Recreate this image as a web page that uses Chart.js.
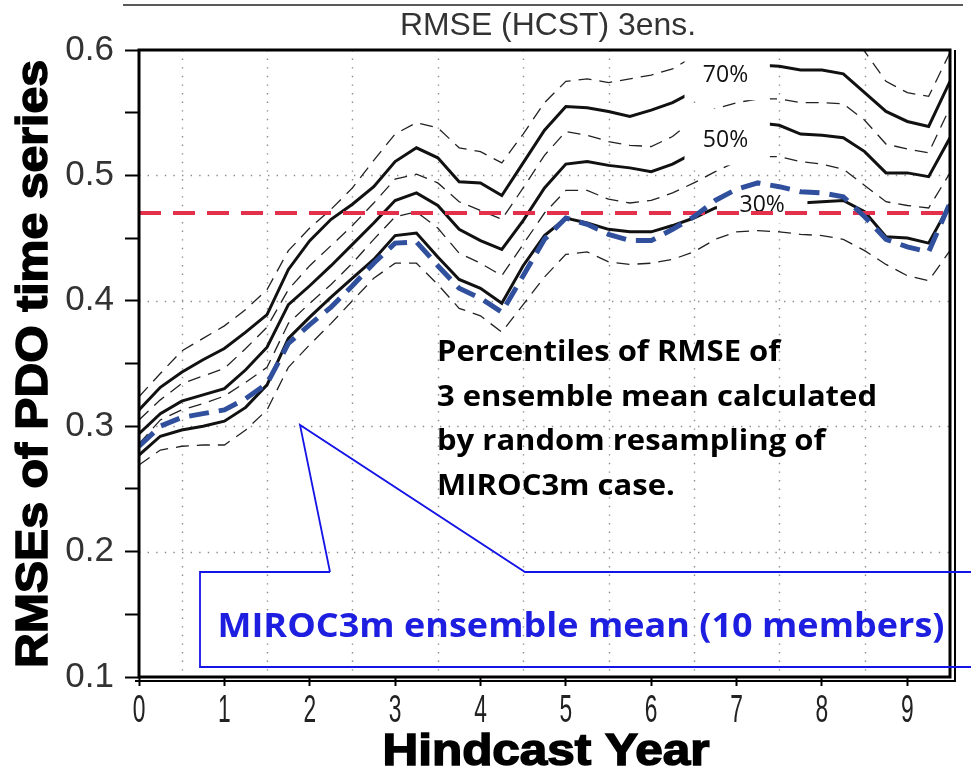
<!DOCTYPE html>
<html>
<head>
<meta charset="utf-8">
<script src="https://cdn.jsdelivr.net/npm/chart.js@4.4.1/dist/chart.umd.min.js"></script>
<style>
  html, body { margin: 0; padding: 0; background: #fff; }
  canvas { display: block; }
</style>
</head>
<body>
<canvas id="rmseChart" width="971" height="768"></canvas>
<script>
/*
    RMSE of PDO hindcasts vs lead time
*/

// lead time of each sample (years)
var leadYears = [0, 0.25, 0.5, 0.75, 1, 1.25, 1.5, 1.75, 2, 2.25, 2.5, 2.75, 3, 3.25, 3.5, 3.75,
    4, 4.25, 4.5, 4.75, 5, 5.25, 5.5, 5.75, 6, 6.25, 6.5, 6.75, 7, 7.25, 7.5, 7.75,
    8, 8.25, 8.5, 8.75, 9, 9.25, 9.5];

// percentiles of the 3-member resampled RMSE
var p20 = [0.269, 0.281, 0.284, 0.285, 0.285, 0.297, 0.313, 0.347, 0.365, 0.382, 0.400, 0.418, 0.430, 0.430, 0.413, 0.394,
    0.388, 0.375, 0.397, 0.419, 0.437, 0.439, 0.431, 0.429, 0.430, 0.433, 0.439, 0.449, 0.455, 0.456, 0.455, 0.453,
    0.452, 0.449, 0.440, 0.429, 0.420, 0.416, 0.440];
var p30 = [0.277, 0.292, 0.297, 0.300, 0.304, 0.315, 0.333, 0.370, 0.387, 0.403, 0.418, 0.433, 0.452, 0.454, 0.435, 0.417,
    0.410, 0.398, 0.428, 0.452, 0.466, 0.462, 0.457, 0.455, 0.455, 0.460, 0.466, 0.474, 0.478, 0.479, 0.479, 0.478,
    0.479, 0.480, 0.471, 0.451, 0.450, 0.446, 0.477];
var p40 = [0.286, 0.305, 0.313, 0.318, 0.324, 0.335, 0.347, 0.382, 0.398, 0.413, 0.430, 0.449, 0.467, 0.471, 0.458, 0.438,
    0.430, 0.420, 0.445, 0.470, 0.488, 0.488, 0.481, 0.478, 0.480, 0.486, 0.494, 0.503, 0.511, 0.515, 0.515, 0.511,
    0.509, 0.505, 0.492, 0.479, 0.476, 0.474, 0.502];
var p50 = [0.294, 0.310, 0.320, 0.325, 0.330, 0.345, 0.363, 0.397, 0.412, 0.428, 0.445, 0.462, 0.480, 0.486, 0.476, 0.457,
    0.448, 0.441, 0.464, 0.490, 0.509, 0.511, 0.508, 0.506, 0.503, 0.509, 0.518, 0.527, 0.536, 0.542, 0.540, 0.533,
    0.532, 0.530, 0.519, 0.502, 0.502, 0.499, 0.530];
var p60 = [0.305, 0.321, 0.334, 0.340, 0.346, 0.362, 0.379, 0.409, 0.428, 0.444, 0.460, 0.478, 0.497, 0.501, 0.494, 0.479,
    0.472, 0.465, 0.490, 0.516, 0.535, 0.532, 0.527, 0.524, 0.523, 0.531, 0.545, 0.553, 0.558, 0.561, 0.561, 0.558,
    0.558, 0.557, 0.544, 0.525, 0.521, 0.518, 0.554];
var p70 = [0.313, 0.331, 0.343, 0.353, 0.362, 0.375, 0.389, 0.425, 0.448, 0.465, 0.477, 0.491, 0.511, 0.522, 0.514, 0.495,
    0.494, 0.484, 0.510, 0.536, 0.555, 0.554, 0.551, 0.547, 0.552, 0.558, 0.567, 0.575, 0.582, 0.588, 0.587, 0.584,
    0.584, 0.581, 0.566, 0.551, 0.543, 0.539, 0.575];
var p80 = [0.3235, 0.342, 0.360, 0.370, 0.380, 0.393, 0.409, 0.440, 0.458, 0.473, 0.490, 0.512, 0.533, 0.542, 0.538, 0.522,
    0.519, 0.510, 0.533, 0.558, 0.575, 0.577, 0.574, 0.577, 0.580, 0.585, 0.595, 0.603, 0.610, 0.615, 0.615, 0.612,
    0.612, 0.610, 0.599, 0.575, 0.566, 0.563, 0.598];

// MIROC3m 10-member ensemble mean
var miroc3m = [0.284, 0.300, 0.307, 0.310, 0.313, 0.322, 0.334, 0.366, 0.381, 0.395, 0.412, 0.430, 0.446, 0.447, 0.428, 0.410,
    0.402, 0.391, 0.420, 0.449, 0.466, 0.461, 0.453, 0.448, 0.448, 0.457, 0.467, 0.480, 0.489, 0.494, 0.491, 0.487,
    0.486, 0.483, 0.467, 0.449, 0.443, 0.439, 0.478];

var thresholdLead = [0, 9.5];
var thresholdRmse = [0.47, 0.47];

// axis ticks and dotted grid positions
var yTickValues = [0.1, 0.15, 0.2, 0.25, 0.3, 0.35, 0.4, 0.45, 0.5, 0.55, 0.6];
var xLabelValues = [0, 1, 2, 3, 4, 5, 6, 7, 8, 9];
var gridLeads = [0.5, 1.5, 2.5, 3.5, 4.5, 5.5, 6.5, 7.5, 8.5];
var gridRmse = [0.2, 0.3, 0.4, 0.5];

// percentile tags: text, box corners (lead, rmse) and text anchor
var pctTags = [
    { text: '70%', x1: 6.39, x2: 7.39, y1: 0.600, y2: 0.560, tx: 6.87, ty: 0.580 },
    { text: '50%', x1: 6.39, x2: 7.39, y1: 0.553, y2: 0.508, tx: 6.87, ty: 0.528 },
    { text: '30%', x1: 6.77, x2: 7.83, y1: 0.487, y2: 0.462, tx: 7.30, ty: 0.476 },
];

var noteLines = ['Percentiles of RMSE of', '3 ensemble mean calculated', 'by random resampling of', 'MIROC3m case.'];
var calloutText = 'MIROC3m ensemble mean (10 members)';

function isMajor(v, step){
    var r = v / step;
    return Math.abs(r - Math.round(r)) < 1e-6;
}

function lineSet(label, values, xs, color, width, dash, order){
    return {
        label: label,
        data: values.map((v, i) => ({ x: xs[i], y: v })),
        borderColor: color,
        borderWidth: width,
        borderDash: dash,
        pointRadius: 0,
        tension: 0,
        fill: false,
        order: order,
    };
}

// draw text squeezed/stretched to a given width
function fitText(ctx, text, x, y, width, align){
    var w = ctx.measureText(text).width;
    ctx.save();
    ctx.translate(x, y);
    ctx.scale(width / w, 1);
    ctx.textAlign = align;
    ctx.fillText(text, 0, 0);
    ctx.restore();
}

var overlayPlugin = {
    id: 'overlay',

    // dotted grid: half-year verticals, 0.1 horizontals
    beforeDatasetsDraw(chart){
        var ctx = chart.ctx;
        var a = chart.chartArea;
        var xs = chart.scales.x, ys = chart.scales.y;
        ctx.save();
        ctx.strokeStyle = '#8c8c8c';
        ctx.lineWidth = 1.4;
        ctx.setLineDash([1.4, 7.2]);
        gridLeads.forEach(function(v){
            var px = Math.round(xs.getPixelForValue(v)) + 0.5;
            ctx.beginPath();
            ctx.moveTo(px, a.top);
            ctx.lineTo(px, a.bottom);
            ctx.stroke();
        });
        gridRmse.forEach(function(v){
            var py = Math.round(ys.getPixelForValue(v)) + 0.5;
            ctx.beginPath();
            ctx.moveTo(a.left, py);
            ctx.lineTo(a.right, py);
            ctx.stroke();
        });
        ctx.restore();
    },

    // white tag boxes sit over the percentile curves, under the red and blue lines
    beforeDatasetDraw(chart, args){
        if(chart.data.datasets[args.index].label !== 'threshold') return;
        var ctx = chart.ctx;
        var xs = chart.scales.x, ys = chart.scales.y;
        ctx.save();
        pctTags.forEach(function(t){
            var l = xs.getPixelForValue(t.x1), r = xs.getPixelForValue(t.x2);
            var top = ys.getPixelForValue(t.y1), bot = ys.getPixelForValue(t.y2);
            ctx.fillStyle = '#fff';
            ctx.fillRect(l, top, r - l, bot - top);
            ctx.fillStyle = '#111';
            ctx.font = '23px "Open Sans"';
            ctx.textAlign = 'center';
            ctx.textBaseline = 'middle';
            ctx.fillText(t.text, xs.getPixelForValue(t.tx), ys.getPixelForValue(t.ty));
        });
        ctx.restore();
    },

    afterDraw(chart){
        var ctx = chart.ctx;
        var a = chart.chartArea;
        var xs = chart.scales.x;
        ctx.save();

        // frame with offset edge on right/bottom
        ctx.strokeStyle = '#000';
        ctx.lineWidth = 3;
        ctx.strokeRect(a.left, a.top, a.right - a.left, a.bottom - a.top);
        ctx.lineWidth = 2;
        ctx.beginPath();
        ctx.moveTo(a.right + 5, a.top);
        ctx.lineTo(a.right + 5, a.bottom + 4);
        ctx.lineTo(a.left - 4, a.bottom + 4);
        ctx.stroke();

        // rule above the title
        ctx.lineWidth = 1.5;
        ctx.strokeStyle = '#222';
        ctx.beginPath();
        ctx.moveTo(123, 5);
        ctx.lineTo(963, 5);
        ctx.stroke();

        // title
        ctx.fillStyle = '#333';
        ctx.font = '32px "Liberation Sans"';
        ctx.textBaseline = 'alphabetic';
        fitText(ctx, 'RMSE (HCST) 3ens.', 548, 35, 296, 'center');

        // x tick labels (tall, narrow digits)
        ctx.font = '38px "Liberation Sans"';
        ctx.fillStyle = '#222';
        xLabelValues.forEach(function(v){
            ctx.save();
            ctx.translate(xs.getPixelForValue(v), 722);
            ctx.scale(0.6, 1);
            ctx.textAlign = 'center';
            ctx.fillText(String(v), 0, 0);
            ctx.restore();
        });

        // axis titles
        ctx.fillStyle = '#000';
        ctx.strokeStyle = '#000';
        ctx.lineWidth = 1.5;
        ctx.font = 'bold 44px "Liberation Sans"';
        ctx.save();
        ctx.translate(47, 364);
        ctx.rotate(-Math.PI / 2);
        var wy = ctx.measureText('RMSEs of PDO time series').width;
        ctx.scale(608 / wy, 1);
        ctx.textAlign = 'center';
        ctx.fillText('RMSEs of PDO time series', 0, 0);
        ctx.strokeText('RMSEs of PDO time series', 0, 0);
        ctx.restore();
        ctx.save();
        ctx.translate(546, 765);
        var wx = ctx.measureText('Hindcast Year').width;
        ctx.scale(327 / wx, 1);
        ctx.textAlign = 'center';
        ctx.fillText('Hindcast Year', 0, 0);
        ctx.strokeText('Hindcast Year', 0, 0);
        ctx.restore();

        // note
        ctx.fillStyle = '#000';
        ctx.font = 'bold 29px "Open Sans"';
        var noteScale = 440 / ctx.measureText(noteLines[1]).width;
        noteLines.forEach(function(s, i){
            ctx.save();
            ctx.translate(437, 361 + i * 44.5);
            ctx.scale(noteScale, 1);
            ctx.textAlign = 'left';
            ctx.fillText(s, 0, 0);
            ctx.restore();
        });

        // callout for the ensemble mean curve
        ctx.strokeStyle = '#1414e6';
        ctx.lineWidth = 1.8;
        ctx.beginPath();
        ctx.moveTo(330, 572);
        ctx.lineTo(200, 572);
        ctx.lineTo(200, 667);
        ctx.lineTo(971, 667);
        ctx.moveTo(330, 572);
        ctx.lineTo(300, 425);
        ctx.lineTo(525, 572);
        ctx.lineTo(971, 572);
        ctx.stroke();
        ctx.fillStyle = '#1e1ee0';
        ctx.font = 'bold 34px "Open Sans"';
        fitText(ctx, calloutText, 581, 637, 727, 'center');

        ctx.restore();
    }
};

var datasets = [
    lineSet('p80', p80, leadYears, '#222', 1.3, [13, 8], 2),
    lineSet('p70', p70, leadYears, '#111', 3, [], 2),
    lineSet('p60', p60, leadYears, '#222', 1.3, [13, 8], 2),
    lineSet('p50', p50, leadYears, '#111', 3, [], 2),
    lineSet('p40', p40, leadYears, '#222', 1.3, [13, 8], 2),
    lineSet('p30', p30, leadYears, '#111', 3, [], 2),
    lineSet('p20', p20, leadYears, '#222', 1.3, [13, 8], 2),
    lineSet('threshold', thresholdRmse, thresholdLead, '#e3304b', 4, [22, 12], 1),
    lineSet('MIROC3m', miroc3m, leadYears, '#30509e', 5, [20, 10], 0),
];

var ctx = document.getElementById('rmseChart');

new Chart(ctx, {
    type: 'line',
    data: { datasets: datasets },
    options: {
        responsive: false,
        animation: false,
        events: [],
        layout: {
            padding: { top: 50, right: 21, left: 0, bottom: 0 }
        },
        plugins: {
            legend: { display: false },
            tooltip: { enabled: false },
            title: { display: false },
        },
        scales: {
            x: {
                type: 'linear',
                min: 0,
                max: 9.5,
                afterBuildTicks: (scale) => { scale.ticks = xLabelValues.map((v) => ({ value: v })); },
                afterFit: (scale) => { scale.height = 91; },
                border: { display: false },
                grid: {
                    drawOnChartArea: false,
                    tickColor: '#000',
                    tickWidth: 2,
                    tickLength: 9,
                },
                ticks: { display: false, autoSkip: false },
            },
            y: {
                type: 'linear',
                min: 0.1,
                max: 0.6,
                afterBuildTicks: (scale) => { scale.ticks = yTickValues.map((v) => ({ value: v })); },
                afterFit: (scale) => { scale.width = 139; },
                border: { display: false },
                grid: {
                    drawOnChartArea: false,
                    tickColor: '#000',
                    tickWidth: 2,
                    tickLength: 14,
                },
                ticks: {
                    autoSkip: false,
                    padding: 11,
                    color: '#333',
                    font: { family: 'Liberation Sans', size: 35 },
                    callback: (v) => isMajor(v, 0.1) ? v.toFixed(1) : '',
                },
            },
        }
    },
    plugins: [overlayPlugin]
});
</script>
</body>
</html>
